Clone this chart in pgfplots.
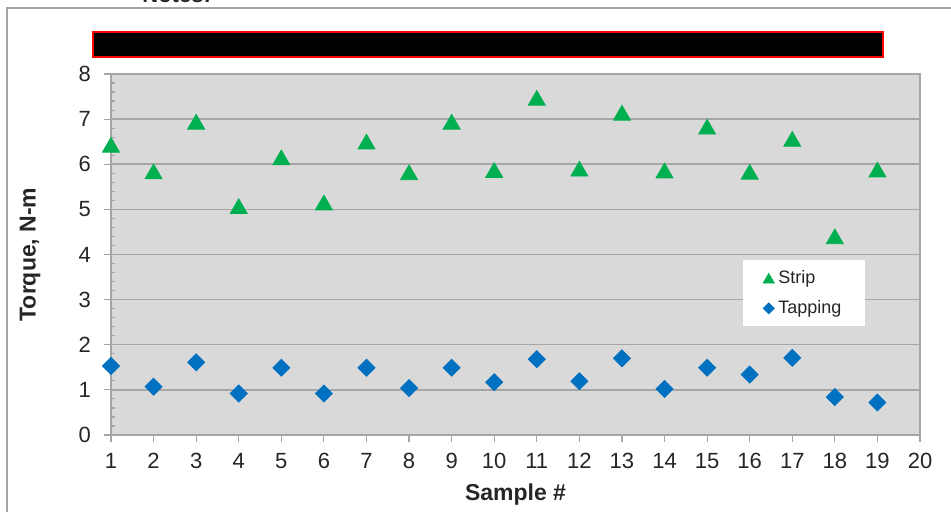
\documentclass[border=0pt]{standalone}
\usepackage{fontspec}
\setmainfont{Liberation Sans}
\usepackage{pgfplots}
\pgfplotsset{compat=1.18}

\definecolor{stripgreen}{HTML}{00B050}
\definecolor{tapblue}{HTML}{0070C0}
\definecolor{plotgray}{HTML}{D9D9D9}
\definecolor{linegray}{HTML}{A6A6A6}
\definecolor{txt}{HTML}{262626}

\begin{document}
\begin{tikzpicture}
\useasboundingbox (0,0) rectangle (475.5pt,256pt);
% outer chart frame (only left and top are in view)
\draw[color=linegray, line width=1pt] (3.5pt,0) -- (3.5pt,252pt) -- (480pt,252pt);
% title text cut off at the top
\node[anchor=base west, font=\fontsize{11}{13}\selectfont\bfseries, text=txt, inner sep=0pt] at (71pt,254.5pt) {Notes:};
% redaction bar
\draw[draw=red, fill=black, line width=0.6pt] (46.5pt,227.5pt) rectangle (441.5pt,240pt);

\begin{axis}[
    at={(55.5pt,38.5pt)}, anchor=south west,
    scale only axis,
    width=404.5pt, height=180.5pt,
    xmin=1, xmax=20, ymin=0, ymax=8,
    xtick={1,2,...,20},
    ytick={0,1,...,8},
    minor y tick num=4,
    xtick pos=bottom, ytick pos=left,
    tick align=outside,
    major tick length=3.5pt,
    minor tick length=2pt,
    minor y tick style={xshift=2pt},
    tick style={color=linegray, line width=0.6pt},
    axis background/.style={fill=plotgray},
    axis line style={color=linegray, line width=1pt},
    ymajorgrids,
    grid style={color=linegray, line width=0.75pt},
    tick label style={font=\fontsize{11}{13}\selectfont, text=txt},
    /pgf/number format/assume math mode=true,
    xticklabel style={yshift=-2pt},
    yticklabel style={xshift=-3pt},
    xlabel={Sample \#},
    ylabel={Torque, N-m},
    xlabel style={font=\fontsize{11.5}{13}\selectfont\bfseries, text=txt, at={(axis description cs:0.5,-0.166)}, anchor=center},
    ylabel style={font=\fontsize{11.5}{13}\selectfont\bfseries, text=txt, at={(axis description cs:-0.1,0.5)}, anchor=center, rotate=0},
    legend cell align=left,
    legend style={at={(rel axis cs:0.781,0.485)}, anchor=north west, draw=none, fill=white,
        font=\fontsize{9}{11}\selectfont, text=txt, inner xsep=10pt, inner ysep=3pt,
        row sep=3pt},
    legend image post style={scale=0.65},
]
\addplot[only marks, mark=triangle*, mark size=4.9pt, mark options={yshift=-1.2pt}, color=stripgreen] coordinates {
(1,6.43) (2,5.84) (3,6.94) (4,5.07) (5,6.15) (6,5.15) (7,6.50) (8,5.82) (9,6.94) (10,5.87)
(11,7.47) (12,5.90) (13,7.14) (14,5.86) (15,6.83) (16,5.83) (17,6.56) (18,4.40) (19,5.88)};
\addlegendentry{Strip}
\addplot[only marks, mark=square*, mark size=3pt, mark options={rotate=45}, color=tapblue] coordinates {
(1,1.53) (2,1.07) (3,1.61) (4,0.92) (5,1.49) (6,0.92) (7,1.49) (8,1.04) (9,1.49) (10,1.17)
(11,1.68) (12,1.19) (13,1.70) (14,1.02) (15,1.49) (16,1.34) (17,1.71) (18,0.84) (19,0.72)};
\addlegendentry{Tapping}
\end{axis}
\end{tikzpicture}
\end{document}
